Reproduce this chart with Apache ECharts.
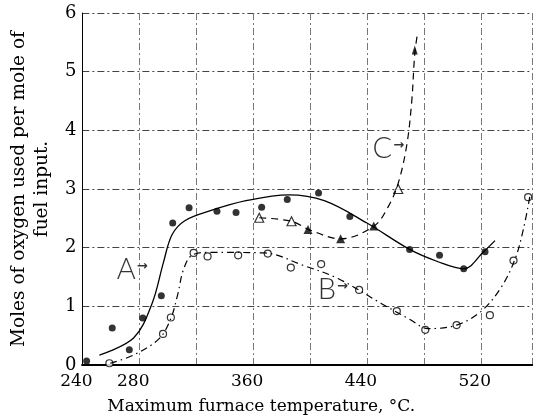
<!DOCTYPE html>
<html>
<head>
<meta charset="utf-8">
<script src="https://cdn.jsdelivr.net/npm/echarts@6/dist/echarts.min.js"></script>
<style>
html,body{margin:0;padding:0;background:#fff;}
#c{width:535px;height:420px;}
</style>
</head>
<body>
<div id="c"></div>
<script>
// ---- data ----
const xTickLabels = [240, 280, 360, 440, 520];

// measured points, curve A (filled circles)
const pointsA = [[243,0.07],[261,0.63],[273,0.26],[282.5,0.80],[295.5,1.18],[303.5,2.42],[315,2.68],[334.6,2.62],[348,2.60],[366,2.69],[384,2.82],[406,2.93],[428,2.53],[470,1.97],[491,1.87],[508,1.64],[523,1.93]];
// measured points, curve B (open circles)
const pointsB = [[259,0.03],[296.7,0.53],[302.2,0.81],[318.2,1.91],[328,1.85],[349.5,1.87],[370.3,1.90],[386.5,1.66],[407.8,1.72],[434.5,1.28],[461,0.92],[481,0.60],[503,0.68],[526.4,0.85],[543,1.78],[553.3,2.86]];
// curve C points (open and filled triangles)
const pointsCOpen = [[364.3,2.51],[387,2.45],[462,3.0]];
const pointsCFilled = [[398.6,2.31],[421.5,2.15],[444.8,2.37]];
const arrowC = [[473.6,5.37]];

// fitted curves
const curveA = [[252,0.17],[276,0.46],[289,1.05],[297,1.75],[303,2.22],[312,2.46],[330,2.63],[355,2.80],[385,2.90],[410,2.80],[440,2.42],[470,1.97],[490,1.76],[508,1.64],[522,1.93],[530,2.12]];
const curveB = [[259.6,0.03],[276,0.17],[294,0.45],[302,0.78],[307,1.2],[311,1.62],[317,1.87],[330,1.92],[368,1.91],[395,1.70],[420,1.47],[450,1.05],[470,0.78],[483,0.62],[503,0.68],[520,0.91],[534,1.31],[544,1.80],[550,2.32],[554.6,2.89]];
const curveC = [[364.3,2.51],[387,2.45],[400,2.30],[421.5,2.15],[445,2.37],[455,2.7],[462,3.1],[468,3.75],[471.5,4.5],[473.6,5.3],[475.5,5.65]];

// curve labels [x, y, letter]
const curveLabels = [[275,1.63,'A'],[416,1.29,'B'],[455,3.69,'C']];

const serif = '"DejaVu Serif", "Liberation Serif", serif';

const chart = echarts.init(document.getElementById('c'), null, {renderer:'canvas'});
chart.setOption({
  animation:false,
  backgroundColor:'#fff',
  grid:{left:74, right:0, top:13, bottom:53, containLabel:false},
  xAxis:[{
    type:'value', min:240, max:556, interval:40, position:'bottom',
    axisLine:{show:true, onZero:false, lineStyle:{color:'#000', width:2}},
    axisTick:{show:false},
    axisLabel:{
      color:'#000', fontFamily:serif, fontSize:17, margin:8, padding:[0,12,0,0],
      formatter:v => xTickLabels.indexOf(v) >= 0 ? String(v) : ''
    },
    splitLine:{show:true, lineStyle:{color:'#777', width:1, type:[7,3,2,3]}},
    name:'Maximum furnace temperature, °C.', nameLocation:'middle', nameGap:33,
    nameTextStyle:{color:'#000', fontFamily:serif, fontSize:17, padding:[0,92,0,0]}
  },{
    type:'value', min:240, max:556, position:'top',
    axisLine:{show:true, lineStyle:{color:'#000', width:2}},
    axisTick:{show:false}, axisLabel:{show:false}, splitLine:{show:false}
  }],
  yAxis:{
    type:'value', min:0, max:6, interval:1,
    axisLine:{show:true, lineStyle:{color:'#000', width:1}},
    axisTick:{show:false},
    axisLabel:{color:'#000', fontFamily:serif, fontSize:18, margin:6},
    splitLine:{show:true, lineStyle:{color:'#444', width:1, type:[7,3,2,3]}},
    name:'Moles of oxygen used per mole of\nfuel input.', nameLocation:'middle', nameGap:27,
    nameTextStyle:{color:'#000', fontFamily:serif, fontSize:18.5, lineHeight:23, align:'center'}
  },
  series:[
    {type:'line', data:curveA, smooth:0.35, showSymbol:false,
     lineStyle:{color:'#000', width:1.3}},
    {type:'line', data:curveB, smooth:0.35, showSymbol:false,
     lineStyle:{color:'#000', width:1.2, type:[7,4,1.5,4]}},
    {type:'line', data:curveC, smooth:0.35, showSymbol:false,
     lineStyle:{color:'#000', width:1.2, type:[7,5]}},
    {type:'scatter', data:pointsA, symbol:'circle', symbolSize:7,
     itemStyle:{color:'#000'}},
    {type:'scatter', data:pointsB, symbol:'circle', symbolSize:7,
     itemStyle:{color:'#fff', borderColor:'#000', borderWidth:1.2}},
    {type:'scatter', data:pointsCOpen, symbol:'triangle', symbolSize:9,
     itemStyle:{color:'#fff', borderColor:'#000', borderWidth:1.2}},
    {type:'scatter', data:pointsCFilled, symbol:'triangle', symbolSize:9,
     itemStyle:{color:'#000'}},
    {type:'scatter', data:arrowC, symbol:'triangle', symbolSize:[6,9],
     itemStyle:{color:'#000'}},
    {type:'scatter', data:curveLabels, symbolSize:0,
     label:{show:true, position:'inside', formatter:p => '{l|' + p.data[2] + '}{a|→}',
       rich:{
         l:{color:'#000', fontFamily:'Lato, "Liberation Sans", sans-serif', fontWeight:300, fontSize:29, verticalAlign:'middle'},
         a:{color:'#000', fontFamily:'"DejaVu Sans", sans-serif', fontSize:13, fontWeight:'bold', verticalAlign:'middle', padding:[0,0,6,1]}
       }}}
  ]
});
</script>
</body>
</html>
